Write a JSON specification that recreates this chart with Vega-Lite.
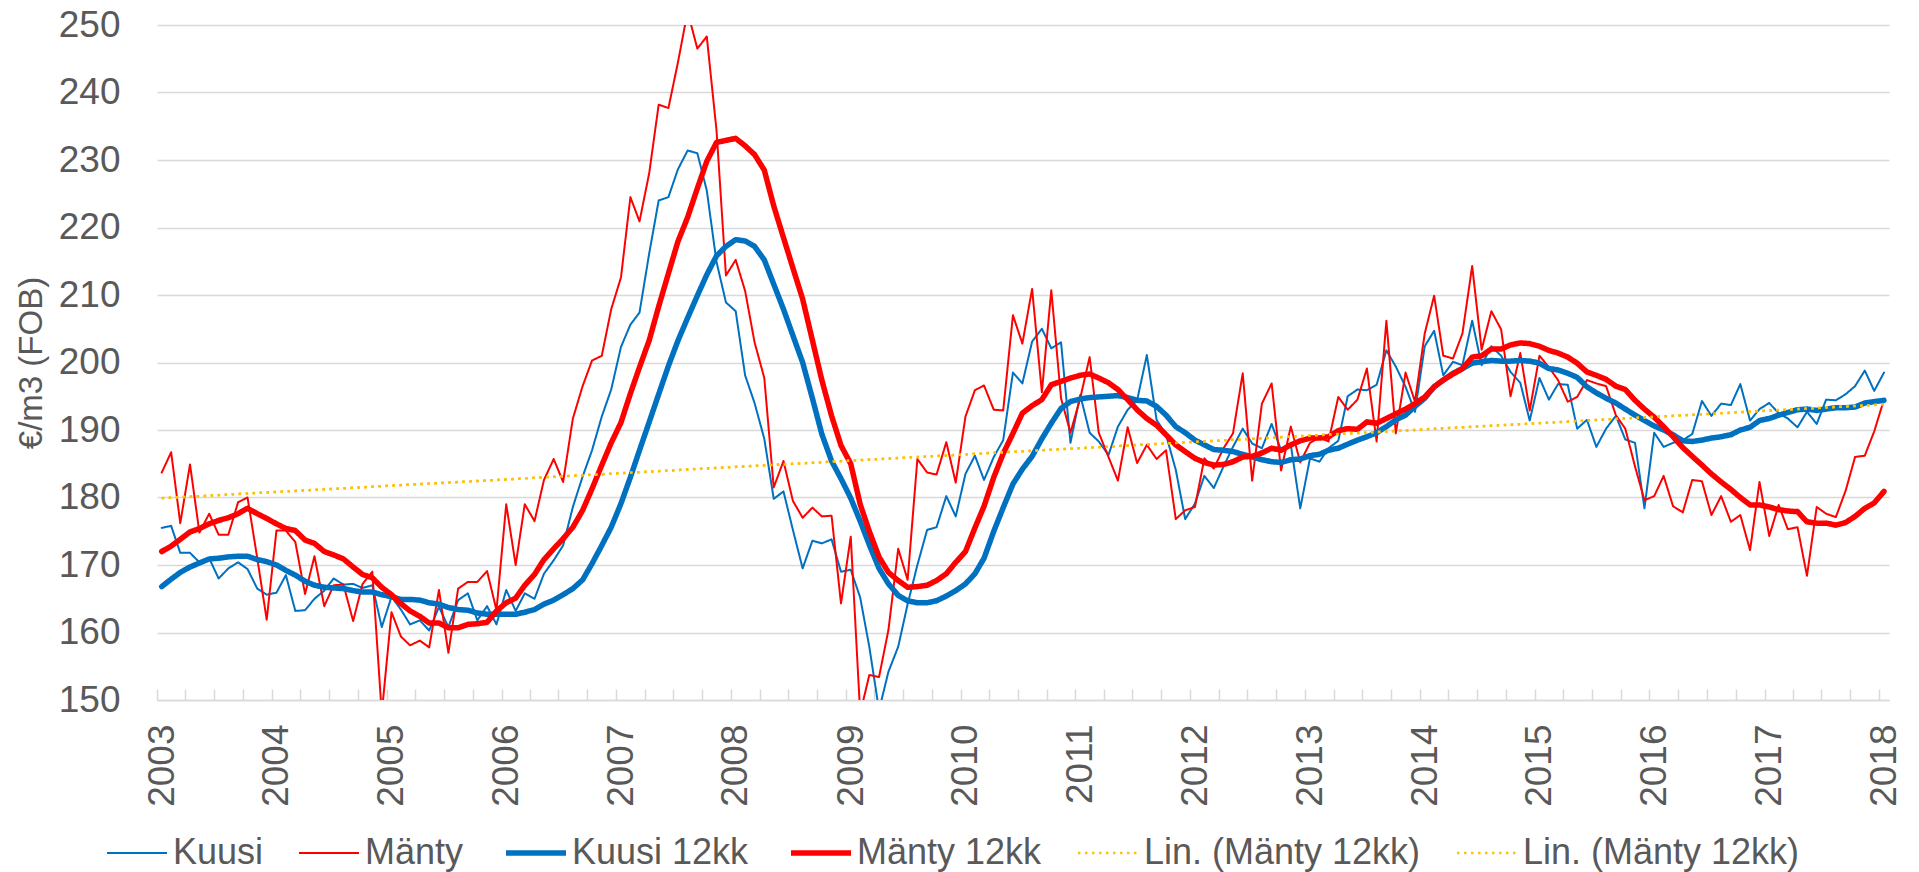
{
  "$schema": "https://vega.github.io/schema/vega-lite/v6.json",
  "width": 1732,
  "height": 675,
  "autosize": {"type": "none"},
  "padding": {"left": 157, "top": 25, "right": 30, "bottom": 172},
  "background": "white",
  "config": {
    "view": {"stroke": null},
    "font": "Liberation Sans"
  },
  "datasets": {
    "monthly": [
      {"d":"2003-01-16","Kuusi":175.5,"Mänty":183.7,"Kuusi 12kk":166.8,"Mänty 12kk":172.0},
      {"d":"2003-02-15","Kuusi":175.8,"Mänty":186.7,"Kuusi 12kk":167.9,"Mänty 12kk":172.8},
      {"d":"2003-03-16","Kuusi":171.8,"Mänty":176.2,"Kuusi 12kk":168.9,"Mänty 12kk":173.8},
      {"d":"2003-04-16","Kuusi":171.8,"Mänty":184.9,"Kuusi 12kk":169.7,"Mänty 12kk":174.9},
      {"d":"2003-05-16","Kuusi":170.4,"Mänty":174.8,"Kuusi 12kk":170.3,"Mänty 12kk":175.4},
      {"d":"2003-06-16","Kuusi":171.0,"Mänty":177.6,"Kuusi 12kk":170.9,"Mänty 12kk":176.1},
      {"d":"2003-07-16","Kuusi":168.0,"Mänty":174.5,"Kuusi 12kk":171.0,"Mänty 12kk":176.6},
      {"d":"2003-08-16","Kuusi":169.5,"Mänty":174.5,"Kuusi 12kk":171.2,"Mänty 12kk":177.0},
      {"d":"2003-09-16","Kuusi":170.4,"Mänty":179.3,"Kuusi 12kk":171.3,"Mänty 12kk":177.6},
      {"d":"2003-10-16","Kuusi":169.4,"Mänty":180.0,"Kuusi 12kk":171.3,"Mänty 12kk":178.4},
      {"d":"2003-11-16","Kuusi":166.5,"Mänty":171.0,"Kuusi 12kk":170.8,"Mänty 12kk":177.6},
      {"d":"2003-12-16","Kuusi":165.6,"Mänty":161.9,"Kuusi 12kk":170.5,"Mänty 12kk":176.9},
      {"d":"2004-01-16","Kuusi":165.9,"Mänty":175.1,"Kuusi 12kk":170.0,"Mänty 12kk":176.1},
      {"d":"2004-02-15","Kuusi":168.5,"Mänty":175.1,"Kuusi 12kk":169.2,"Mänty 12kk":175.4},
      {"d":"2004-03-16","Kuusi":163.2,"Mänty":173.4,"Kuusi 12kk":168.5,"Mänty 12kk":175.1},
      {"d":"2004-04-16","Kuusi":163.3,"Mänty":165.7,"Kuusi 12kk":167.6,"Mänty 12kk":173.7},
      {"d":"2004-05-16","Kuusi":165.0,"Mänty":171.3,"Kuusi 12kk":167.0,"Mänty 12kk":173.2},
      {"d":"2004-06-16","Kuusi":166.2,"Mänty":163.9,"Kuusi 12kk":166.7,"Mänty 12kk":172.0},
      {"d":"2004-07-16","Kuusi":168.0,"Mänty":167.0,"Kuusi 12kk":166.6,"Mänty 12kk":171.5},
      {"d":"2004-08-16","Kuusi":167.1,"Mänty":167.1,"Kuusi 12kk":166.5,"Mänty 12kk":170.9},
      {"d":"2004-09-16","Kuusi":167.2,"Mänty":161.7,"Kuusi 12kk":166.2,"Mänty 12kk":169.7},
      {"d":"2004-10-16","Kuusi":166.6,"Mänty":167.2,"Kuusi 12kk":166.0,"Mänty 12kk":168.6},
      {"d":"2004-11-16","Kuusi":167.0,"Mänty":169.0,"Kuusi 12kk":166.0,"Mänty 12kk":168.1},
      {"d":"2004-12-16","Kuusi":160.8,"Mänty":148.0,"Kuusi 12kk":165.6,"Mänty 12kk":166.7},
      {"d":"2005-01-16","Kuusi":165.3,"Mänty":163.0,"Kuusi 12kk":165.3,"Mänty 12kk":165.6},
      {"d":"2005-02-15","Kuusi":163.4,"Mänty":159.4,"Kuusi 12kk":164.9,"Mänty 12kk":164.3},
      {"d":"2005-03-16","Kuusi":161.2,"Mänty":158.1,"Kuusi 12kk":164.9,"Mänty 12kk":163.2},
      {"d":"2005-04-16","Kuusi":161.8,"Mänty":158.8,"Kuusi 12kk":164.8,"Mänty 12kk":162.4},
      {"d":"2005-05-16","Kuusi":160.3,"Mänty":157.8,"Kuusi 12kk":164.4,"Mänty 12kk":161.4},
      {"d":"2005-06-16","Kuusi":163.8,"Mänty":166.3,"Kuusi 12kk":164.2,"Mänty 12kk":161.4},
      {"d":"2005-07-16","Kuusi":160.8,"Mänty":157.0,"Kuusi 12kk":163.7,"Mänty 12kk":160.7},
      {"d":"2005-08-16","Kuusi":164.8,"Mänty":166.5,"Kuusi 12kk":163.4,"Mänty 12kk":160.7},
      {"d":"2005-09-16","Kuusi":165.8,"Mänty":167.5,"Kuusi 12kk":163.3,"Mänty 12kk":161.2},
      {"d":"2005-10-16","Kuusi":161.8,"Mänty":167.5,"Kuusi 12kk":162.9,"Mänty 12kk":161.3},
      {"d":"2005-11-16","Kuusi":163.9,"Mänty":169.1,"Kuusi 12kk":162.7,"Mänty 12kk":161.5},
      {"d":"2005-12-16","Kuusi":161.2,"Mänty":163.3,"Kuusi 12kk":162.7,"Mänty 12kk":163.2},
      {"d":"2006-01-16","Kuusi":166.3,"Mänty":179.0,"Kuusi 12kk":162.7,"Mänty 12kk":164.4},
      {"d":"2006-02-15","Kuusi":163.2,"Mänty":170.0,"Kuusi 12kk":162.7,"Mänty 12kk":165.1},
      {"d":"2006-03-16","Kuusi":165.8,"Mänty":179.0,"Kuusi 12kk":163.0,"Mänty 12kk":167.0},
      {"d":"2006-04-16","Kuusi":165.0,"Mänty":176.5,"Kuusi 12kk":163.4,"Mänty 12kk":168.6},
      {"d":"2006-05-16","Kuusi":168.7,"Mänty":182.6,"Kuusi 12kk":164.2,"Mänty 12kk":170.8},
      {"d":"2006-06-16","Kuusi":170.7,"Mänty":185.7,"Kuusi 12kk":164.8,"Mänty 12kk":172.4},
      {"d":"2006-07-16","Kuusi":172.9,"Mänty":182.3,"Kuusi 12kk":165.6,"Mänty 12kk":173.9},
      {"d":"2006-08-16","Kuusi":178.6,"Mänty":191.7,"Kuusi 12kk":166.5,"Mänty 12kk":175.6},
      {"d":"2006-09-16","Kuusi":183.1,"Mänty":196.5,"Kuusi 12kk":167.8,"Mänty 12kk":178.1},
      {"d":"2006-10-16","Kuusi":187.0,"Mänty":200.3,"Kuusi 12kk":170.2,"Mänty 12kk":181.3},
      {"d":"2006-11-16","Kuusi":192.0,"Mänty":201.0,"Kuusi 12kk":172.9,"Mänty 12kk":184.8},
      {"d":"2006-12-16","Kuusi":196.0,"Mänty":207.9,"Kuusi 12kk":175.6,"Mänty 12kk":188.1},
      {"d":"2007-01-16","Kuusi":202.3,"Mänty":212.6,"Kuusi 12kk":179.1,"Mänty 12kk":191.1},
      {"d":"2007-02-15","Kuusi":205.6,"Mänty":224.5,"Kuusi 12kk":183.0,"Mänty 12kk":195.4},
      {"d":"2007-03-16","Kuusi":207.4,"Mänty":220.9,"Kuusi 12kk":187.0,"Mänty 12kk":199.3},
      {"d":"2007-04-16","Kuusi":216.2,"Mänty":228.1,"Kuusi 12kk":191.2,"Mänty 12kk":203.3},
      {"d":"2007-05-16","Kuusi":224.0,"Mänty":238.2,"Kuusi 12kk":195.3,"Mänty 12kk":208.3},
      {"d":"2007-06-16","Kuusi":224.5,"Mänty":237.7,"Kuusi 12kk":199.5,"Mänty 12kk":213.2},
      {"d":"2007-07-16","Kuusi":228.6,"Mänty":244.4,"Kuusi 12kk":203.2,"Mänty 12kk":217.9},
      {"d":"2007-08-16","Kuusi":231.4,"Mänty":252.0,"Kuusi 12kk":206.6,"Mänty 12kk":221.5},
      {"d":"2007-09-16","Kuusi":231.0,"Mänty":246.5,"Kuusi 12kk":209.9,"Mänty 12kk":225.8},
      {"d":"2007-10-16","Kuusi":225.5,"Mänty":248.3,"Kuusi 12kk":213.0,"Mänty 12kk":229.8},
      {"d":"2007-11-16","Kuusi":214.9,"Mänty":234.4,"Kuusi 12kk":215.8,"Mänty 12kk":232.6},
      {"d":"2007-12-16","Kuusi":208.9,"Mänty":212.9,"Kuusi 12kk":217.2,"Mänty 12kk":232.9},
      {"d":"2008-01-16","Kuusi":207.6,"Mänty":215.2,"Kuusi 12kk":218.2,"Mänty 12kk":233.2},
      {"d":"2008-02-15","Kuusi":198.1,"Mänty":210.6,"Kuusi 12kk":218.0,"Mänty 12kk":232.1},
      {"d":"2008-03-16","Kuusi":194.0,"Mänty":203.0,"Kuusi 12kk":217.2,"Mänty 12kk":230.8},
      {"d":"2008-04-16","Kuusi":188.7,"Mänty":197.7,"Kuusi 12kk":215.2,"Mänty 12kk":228.5},
      {"d":"2008-05-16","Kuusi":179.8,"Mänty":181.5,"Kuusi 12kk":211.6,"Mänty 12kk":223.2},
      {"d":"2008-06-16","Kuusi":180.9,"Mänty":185.4,"Kuusi 12kk":207.9,"Mänty 12kk":218.5},
      {"d":"2008-07-16","Kuusi":175.2,"Mänty":179.5,"Kuusi 12kk":204.0,"Mänty 12kk":214.0},
      {"d":"2008-08-16","Kuusi":169.5,"Mänty":177.0,"Kuusi 12kk":200.0,"Mänty 12kk":209.4},
      {"d":"2008-09-16","Kuusi":173.6,"Mänty":178.5,"Kuusi 12kk":194.7,"Mänty 12kk":203.3},
      {"d":"2008-10-16","Kuusi":173.2,"Mänty":177.2,"Kuusi 12kk":189.4,"Mänty 12kk":197.4},
      {"d":"2008-11-16","Kuusi":173.8,"Mänty":177.3,"Kuusi 12kk":185.4,"Mänty 12kk":192.1},
      {"d":"2008-12-16","Kuusi":169.0,"Mänty":164.3,"Kuusi 12kk":182.8,"Mänty 12kk":187.7},
      {"d":"2009-01-16","Kuusi":169.3,"Mänty":174.2,"Kuusi 12kk":179.9,"Mänty 12kk":185.0},
      {"d":"2009-02-15","Kuusi":165.2,"Mänty":148.0,"Kuusi 12kk":176.5,"Mänty 12kk":179.0},
      {"d":"2009-03-16","Kuusi":157.9,"Mänty":153.7,"Kuusi 12kk":173.0,"Mänty 12kk":175.0},
      {"d":"2009-04-16","Kuusi":148.5,"Mänty":153.4,"Kuusi 12kk":169.5,"Mänty 12kk":171.2},
      {"d":"2009-05-16","Kuusi":154.2,"Mänty":160.4,"Kuusi 12kk":167.2,"Mänty 12kk":168.9},
      {"d":"2009-06-16","Kuusi":157.9,"Mänty":172.4,"Kuusi 12kk":165.5,"Mänty 12kk":167.7},
      {"d":"2009-07-16","Kuusi":164.2,"Mänty":167.8,"Kuusi 12kk":164.7,"Mänty 12kk":166.7},
      {"d":"2009-08-16","Kuusi":170.0,"Mänty":185.7,"Kuusi 12kk":164.4,"Mänty 12kk":166.8},
      {"d":"2009-09-16","Kuusi":175.2,"Mänty":183.7,"Kuusi 12kk":164.4,"Mänty 12kk":167.0},
      {"d":"2009-10-16","Kuusi":175.6,"Mänty":183.4,"Kuusi 12kk":164.7,"Mänty 12kk":167.7},
      {"d":"2009-11-16","Kuusi":180.2,"Mänty":188.2,"Kuusi 12kk":165.4,"Mänty 12kk":168.7},
      {"d":"2009-12-16","Kuusi":177.2,"Mänty":182.2,"Kuusi 12kk":166.2,"Mänty 12kk":170.4},
      {"d":"2010-01-16","Kuusi":183.5,"Mänty":192.0,"Kuusi 12kk":167.2,"Mänty 12kk":172.0},
      {"d":"2010-02-15","Kuusi":186.2,"Mänty":195.9,"Kuusi 12kk":168.7,"Mänty 12kk":175.5},
      {"d":"2010-03-16","Kuusi":182.6,"Mänty":196.6,"Kuusi 12kk":171.0,"Mänty 12kk":178.7},
      {"d":"2010-04-16","Kuusi":186.0,"Mänty":193.0,"Kuusi 12kk":175.0,"Mänty 12kk":183.0},
      {"d":"2010-05-16","Kuusi":188.5,"Mänty":192.9,"Kuusi 12kk":178.5,"Mänty 12kk":186.5},
      {"d":"2010-06-16","Kuusi":198.5,"Mänty":207.0,"Kuusi 12kk":182.0,"Mänty 12kk":189.5},
      {"d":"2010-07-16","Kuusi":196.9,"Mänty":202.8,"Kuusi 12kk":184.2,"Mänty 12kk":192.5},
      {"d":"2010-08-16","Kuusi":203.1,"Mänty":210.9,"Kuusi 12kk":186.1,"Mänty 12kk":193.6},
      {"d":"2010-09-16","Kuusi":205.0,"Mänty":195.6,"Kuusi 12kk":188.7,"Mänty 12kk":194.5},
      {"d":"2010-10-16","Kuusi":202.1,"Mänty":210.7,"Kuusi 12kk":191.0,"Mänty 12kk":196.7},
      {"d":"2010-11-16","Kuusi":203.0,"Mänty":194.7,"Kuusi 12kk":193.2,"Mänty 12kk":197.2},
      {"d":"2010-12-16","Kuusi":188.1,"Mänty":189.6,"Kuusi 12kk":194.2,"Mänty 12kk":197.7},
      {"d":"2011-01-16","Kuusi":195.2,"Mänty":194.7,"Kuusi 12kk":194.6,"Mänty 12kk":198.1},
      {"d":"2011-02-15","Kuusi":189.6,"Mänty":200.8,"Kuusi 12kk":194.8,"Mänty 12kk":198.3},
      {"d":"2011-03-16","Kuusi":188.3,"Mänty":189.6,"Kuusi 12kk":194.9,"Mänty 12kk":197.7},
      {"d":"2011-04-16","Kuusi":186.3,"Mänty":186.0,"Kuusi 12kk":195.0,"Mänty 12kk":197.0},
      {"d":"2011-05-16","Kuusi":190.5,"Mänty":182.5,"Kuusi 12kk":195.1,"Mänty 12kk":196.0},
      {"d":"2011-06-16","Kuusi":193.0,"Mänty":190.4,"Kuusi 12kk":194.8,"Mänty 12kk":194.5},
      {"d":"2011-07-16","Kuusi":194.4,"Mänty":185.1,"Kuusi 12kk":194.4,"Mänty 12kk":193.0},
      {"d":"2011-08-16","Kuusi":201.1,"Mänty":187.8,"Kuusi 12kk":194.3,"Mänty 12kk":191.7},
      {"d":"2011-09-16","Kuusi":191.5,"Mänty":185.7,"Kuusi 12kk":193.5,"Mänty 12kk":190.7},
      {"d":"2011-10-16","Kuusi":189.3,"Mänty":187.0,"Kuusi 12kk":192.2,"Mänty 12kk":189.3},
      {"d":"2011-11-16","Kuusi":184.1,"Mänty":176.8,"Kuusi 12kk":190.5,"Mänty 12kk":187.8},
      {"d":"2011-12-16","Kuusi":176.8,"Mänty":178.1,"Kuusi 12kk":189.6,"Mänty 12kk":186.8},
      {"d":"2012-01-16","Kuusi":179.1,"Mänty":178.6,"Kuusi 12kk":188.5,"Mänty 12kk":185.8},
      {"d":"2012-02-15","Kuusi":183.2,"Mänty":185.8,"Kuusi 12kk":187.8,"Mänty 12kk":185.2},
      {"d":"2012-03-16","Kuusi":181.4,"Mänty":184.3,"Kuusi 12kk":187.1,"Mänty 12kk":184.8},
      {"d":"2012-04-16","Kuusi":184.6,"Mänty":187.3,"Kuusi 12kk":187.0,"Mänty 12kk":184.9},
      {"d":"2012-05-16","Kuusi":187.5,"Mänty":189.5,"Kuusi 12kk":186.8,"Mänty 12kk":185.3},
      {"d":"2012-06-16","Kuusi":190.2,"Mänty":198.4,"Kuusi 12kk":186.4,"Mänty 12kk":186.0},
      {"d":"2012-07-16","Kuusi":188.0,"Mänty":182.5,"Kuusi 12kk":186.0,"Mänty 12kk":186.1},
      {"d":"2012-08-16","Kuusi":187.3,"Mänty":193.9,"Kuusi 12kk":185.6,"Mänty 12kk":186.6},
      {"d":"2012-09-16","Kuusi":190.9,"Mänty":196.9,"Kuusi 12kk":185.3,"Mänty 12kk":187.3},
      {"d":"2012-10-16","Kuusi":187.0,"Mänty":184.0,"Kuusi 12kk":185.2,"Mänty 12kk":187.0},
      {"d":"2012-11-16","Kuusi":187.8,"Mänty":190.5,"Kuusi 12kk":185.6,"Mänty 12kk":187.8},
      {"d":"2012-12-16","Kuusi":178.4,"Mänty":185.2,"Kuusi 12kk":185.7,"Mänty 12kk":188.4},
      {"d":"2013-01-16","Kuusi":185.8,"Mänty":188.1,"Kuusi 12kk":186.2,"Mänty 12kk":188.8},
      {"d":"2013-02-15","Kuusi":185.3,"Mänty":188.9,"Kuusi 12kk":186.4,"Mänty 12kk":188.8},
      {"d":"2013-03-16","Kuusi":187.3,"Mänty":188.3,"Kuusi 12kk":187.0,"Mänty 12kk":189.0},
      {"d":"2013-04-16","Kuusi":188.4,"Mänty":194.9,"Kuusi 12kk":187.3,"Mänty 12kk":189.9},
      {"d":"2013-05-16","Kuusi":195.0,"Mänty":193.0,"Kuusi 12kk":187.9,"Mänty 12kk":190.2},
      {"d":"2013-06-16","Kuusi":196.0,"Mänty":194.5,"Kuusi 12kk":188.5,"Mänty 12kk":190.1},
      {"d":"2013-07-16","Kuusi":195.9,"Mänty":199.1,"Kuusi 12kk":189.0,"Mänty 12kk":191.2},
      {"d":"2013-08-16","Kuusi":196.7,"Mänty":188.3,"Kuusi 12kk":189.6,"Mänty 12kk":191.0},
      {"d":"2013-09-16","Kuusi":201.8,"Mänty":206.2,"Kuusi 12kk":190.5,"Mänty 12kk":191.7},
      {"d":"2013-10-16","Kuusi":199.4,"Mänty":189.5,"Kuusi 12kk":191.5,"Mänty 12kk":192.4},
      {"d":"2013-11-16","Kuusi":196.4,"Mänty":198.5,"Kuusi 12kk":192.2,"Mänty 12kk":193.1},
      {"d":"2013-12-16","Kuusi":192.7,"Mänty":194.2,"Kuusi 12kk":193.5,"Mänty 12kk":193.9},
      {"d":"2014-01-16","Kuusi":202.4,"Mänty":204.3,"Kuusi 12kk":194.7,"Mänty 12kk":194.9},
      {"d":"2014-02-15","Kuusi":204.7,"Mänty":209.9,"Kuusi 12kk":196.4,"Mänty 12kk":196.4},
      {"d":"2014-03-16","Kuusi":198.1,"Mänty":201.0,"Kuusi 12kk":197.4,"Mänty 12kk":197.4},
      {"d":"2014-04-16","Kuusi":200.1,"Mänty":200.6,"Kuusi 12kk":198.4,"Mänty 12kk":198.3},
      {"d":"2014-05-16","Kuusi":199.6,"Mänty":204.3,"Kuusi 12kk":199.1,"Mänty 12kk":199.1},
      {"d":"2014-06-16","Kuusi":206.2,"Mänty":214.3,"Kuusi 12kk":199.9,"Mänty 12kk":200.8},
      {"d":"2014-07-16","Kuusi":199.6,"Mänty":201.9,"Kuusi 12kk":200.1,"Mänty 12kk":201.0},
      {"d":"2014-08-16","Kuusi":202.4,"Mänty":207.6,"Kuusi 12kk":200.3,"Mänty 12kk":202.0},
      {"d":"2014-09-16","Kuusi":201.0,"Mänty":204.9,"Kuusi 12kk":200.2,"Mänty 12kk":202.0},
      {"d":"2014-10-16","Kuusi":198.6,"Mänty":195.0,"Kuusi 12kk":200.2,"Mänty 12kk":202.6},
      {"d":"2014-11-16","Kuusi":197.0,"Mänty":201.4,"Kuusi 12kk":200.3,"Mänty 12kk":202.9},
      {"d":"2014-12-16","Kuusi":191.4,"Mänty":192.9,"Kuusi 12kk":200.2,"Mänty 12kk":202.8},
      {"d":"2015-01-16","Kuusi":197.7,"Mänty":201.0,"Kuusi 12kk":199.9,"Mänty 12kk":202.4},
      {"d":"2015-02-15","Kuusi":194.5,"Mänty":199.3,"Kuusi 12kk":199.1,"Mänty 12kk":201.8},
      {"d":"2015-03-16","Kuusi":196.8,"Mänty":197.4,"Kuusi 12kk":198.9,"Mänty 12kk":201.4},
      {"d":"2015-04-16","Kuusi":196.7,"Mänty":194.2,"Kuusi 12kk":198.4,"Mänty 12kk":200.8},
      {"d":"2015-05-16","Kuusi":190.2,"Mänty":194.9,"Kuusi 12kk":197.8,"Mänty 12kk":199.9},
      {"d":"2015-06-16","Kuusi":191.5,"Mänty":197.4,"Kuusi 12kk":196.4,"Mänty 12kk":198.6},
      {"d":"2015-07-16","Kuusi":187.5,"Mänty":196.9,"Kuusi 12kk":195.5,"Mänty 12kk":198.1},
      {"d":"2015-08-16","Kuusi":190.2,"Mänty":196.5,"Kuusi 12kk":194.7,"Mänty 12kk":197.5},
      {"d":"2015-09-16","Kuusi":192.1,"Mänty":192.2,"Kuusi 12kk":194.0,"Mänty 12kk":196.5},
      {"d":"2015-10-16","Kuusi":188.6,"Mänty":190.2,"Kuusi 12kk":193.1,"Mänty 12kk":196.0},
      {"d":"2015-11-16","Kuusi":188.1,"Mänty":184.6,"Kuusi 12kk":192.2,"Mänty 12kk":194.4},
      {"d":"2015-12-16","Kuusi":178.4,"Mänty":179.6,"Kuusi 12kk":191.4,"Mänty 12kk":193.1},
      {"d":"2016-01-16","Kuusi":189.6,"Mänty":180.2,"Kuusi 12kk":190.6,"Mänty 12kk":191.9},
      {"d":"2016-02-15","Kuusi":187.5,"Mänty":183.2,"Kuusi 12kk":190.0,"Mänty 12kk":190.5},
      {"d":"2016-03-16","Kuusi":188.1,"Mänty":178.7,"Kuusi 12kk":189.3,"Mänty 12kk":189.0},
      {"d":"2016-04-16","Kuusi":188.5,"Mänty":177.8,"Kuusi 12kk":188.4,"Mänty 12kk":187.4},
      {"d":"2016-05-16","Kuusi":189.4,"Mänty":182.6,"Kuusi 12kk":188.3,"Mänty 12kk":186.1},
      {"d":"2016-06-16","Kuusi":194.3,"Mänty":182.4,"Kuusi 12kk":188.5,"Mänty 12kk":184.8},
      {"d":"2016-07-16","Kuusi":192.1,"Mänty":177.4,"Kuusi 12kk":188.8,"Mänty 12kk":183.5},
      {"d":"2016-08-16","Kuusi":193.9,"Mänty":180.2,"Kuusi 12kk":189.0,"Mänty 12kk":182.3},
      {"d":"2016-09-16","Kuusi":193.7,"Mänty":176.4,"Kuusi 12kk":189.3,"Mänty 12kk":181.2},
      {"d":"2016-10-16","Kuusi":196.8,"Mänty":177.4,"Kuusi 12kk":190.0,"Mänty 12kk":180.0},
      {"d":"2016-11-16","Kuusi":191.4,"Mänty":172.2,"Kuusi 12kk":190.4,"Mänty 12kk":178.9},
      {"d":"2016-12-16","Kuusi":193.1,"Mänty":182.3,"Kuusi 12kk":191.4,"Mänty 12kk":178.9},
      {"d":"2017-01-16","Kuusi":194.0,"Mänty":174.3,"Kuusi 12kk":191.7,"Mänty 12kk":178.6},
      {"d":"2017-02-15","Kuusi":192.5,"Mänty":178.9,"Kuusi 12kk":192.2,"Mänty 12kk":178.2},
      {"d":"2017-03-16","Kuusi":191.7,"Mänty":175.3,"Kuusi 12kk":192.6,"Mänty 12kk":178.0},
      {"d":"2017-04-16","Kuusi":190.4,"Mänty":175.6,"Kuusi 12kk":193.0,"Mänty 12kk":177.9},
      {"d":"2017-05-16","Kuusi":192.7,"Mänty":168.4,"Kuusi 12kk":193.1,"Mänty 12kk":176.4},
      {"d":"2017-06-16","Kuusi":190.9,"Mänty":178.6,"Kuusi 12kk":192.9,"Mänty 12kk":176.2},
      {"d":"2017-07-16","Kuusi":194.5,"Mänty":177.6,"Kuusi 12kk":193.1,"Mänty 12kk":176.2},
      {"d":"2017-08-16","Kuusi":194.4,"Mänty":177.1,"Kuusi 12kk":193.3,"Mänty 12kk":175.9},
      {"d":"2017-09-16","Kuusi":195.3,"Mänty":181.0,"Kuusi 12kk":193.3,"Mänty 12kk":176.3},
      {"d":"2017-10-16","Kuusi":196.5,"Mänty":186.0,"Kuusi 12kk":193.4,"Mänty 12kk":177.2},
      {"d":"2017-11-16","Kuusi":198.8,"Mänty":186.2,"Kuusi 12kk":194.0,"Mänty 12kk":178.4},
      {"d":"2017-12-16","Kuusi":195.8,"Mänty":189.8,"Kuusi 12kk":194.2,"Mänty 12kk":179.2},
      {"d":"2018-01-16","Kuusi":198.5,"Mänty":194.5,"Kuusi 12kk":194.4,"Mänty 12kk":180.9}
    ],
    "trend": [
      {"d":"2003-01-16","series":"Lin. (Mänty 12kk)","value":179.9},
      {"d":"2018-01-16","series":"Lin. (Mänty 12kk)","value":193.8},
      {"d":"2003-01-16","series":"Lin. (Mänty 12kk) ","value":179.9},
      {"d":"2018-01-16","series":"Lin. (Mänty 12kk) ","value":193.8}
    ]
  },
  "encoding": {
    "x": {
      "field": "d", "type": "temporal",
      "scale": {"type": "utc", "domain": ["2003-01-01", "2018-02-01"]},
      "axis": {
        "title": null,
        "tickCount": {"interval": "month", "step": 3},
        "labelExpr": "utcmonth(datum.value) === 0 ? utcFormat(datum.value, '%Y') : ''",
        "labelAngle": 270,
        "labelFont": "Liberation Sans",
        "labelFontSize": 37,
        "labelColor": "#595959",
        "labelPadding": 35,
        "labelOffset": 5,
        "labelOverlap": false,
        "labelBound": false,
        "labelFlush": false,
        "tickSize": -11,
        "tickColor": "#d9d9d9",
        "tickWidth": 1.5,
        "domainColor": "#d9d9d9",
        "domainWidth": 1.5,
        "grid": false
      }
    },
    "y": {
      "field": "value", "type": "quantitative",
      "scale": {"domain": [150, 250], "nice": false, "zero": false},
      "axis": {
        "values": [150, 160, 170, 180, 190, 200, 210, 220, 230, 240, 250],
        "title": "€/m3 (FOB)",
        "titleFont": "Liberation Sans",
        "titleFontSize": 33,
        "titleFontWeight": "normal",
        "titleColor": "#595959",
        "titlePadding": 10,
        "labelFont": "Liberation Sans",
        "labelFontSize": 37,
        "labelColor": "#595959",
        "labelPadding": 37,
        "ticks": false,
        "domain": false,
        "grid": true,
        "gridColor": "#d9d9d9",
        "gridWidth": 1.5
      }
    },
    "color": {
      "field": "series", "type": "nominal",
      "scale": {
        "domain": ["Kuusi", "Mänty", "Kuusi 12kk", "Mänty 12kk", "Lin. (Mänty 12kk)", "Lin. (Mänty 12kk) "],
        "range": ["#0070C0", "#FF0000", "#0070C0", "#FF0000", "#FFC000", "#FFC000"]
      },
      "legend": {
        "title": null,
        "orient": "none",
        "legendX": -38,
        "legendY": 810,
        "direction": "horizontal",
        "symbolType": "stroke",
        "symbolSize": 3600,
        "labelFont": "Liberation Sans",
        "labelFontSize": 36,
        "labelColor": "#595959",
        "labelOffset": 18,
        "columnPadding": 31,
        "padding": 0,
        "labelLimit": 0,
        "encode": {
          "symbols": {
            "update": {
              "strokeWidth": {"signal": "(datum.value === 'Kuusi 12kk' || datum.value === 'Mänty 12kk') ? 5.5 : (indexof(datum.value, 'Lin') === 0 ? 2.5 : 2)"}
            }
          }
        }
      }
    },
    "strokeWidth": {
      "condition": [
        {"test": "datum.series === 'Kuusi 12kk' || datum.series === 'Mänty 12kk'", "value": 5.5},
        {"test": "indexof(datum.series, 'Lin') === 0", "value": 2.5}
      ],
      "value": 2
    },
    "strokeDash": {
      "field": "series", "type": "nominal",
      "scale": {
        "domain": ["Kuusi", "Mänty", "Kuusi 12kk", "Mänty 12kk", "Lin. (Mänty 12kk)", "Lin. (Mänty 12kk) "],
        "range": [[1, 0], [1, 0], [1, 0], [1, 0], [2.5, 4.5], [2.5, 4.5]]
      }
    }
  },
  "layer": [
    {
      "data": {"name": "monthly"},
      "transform": [{"fold": ["Kuusi", "Mänty", "Kuusi 12kk", "Mänty 12kk"], "as": ["series", "value"]}],
      "mark": {"type": "line", "clip": true, "strokeJoin": "round", "strokeCap": "round"}
    },
    {
      "data": {"name": "trend"},
      "mark": {"type": "line", "clip": true}
    }
  ]
}
